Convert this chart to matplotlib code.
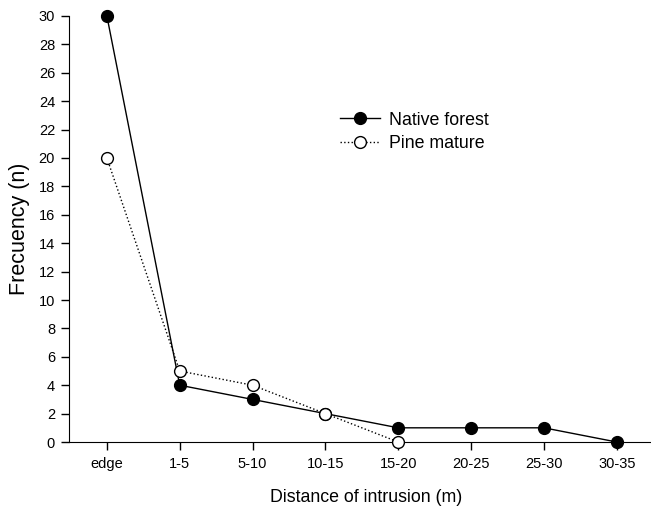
import numpy as np
import matplotlib.pyplot as plt

plt.rcParams['font.family'] = ['Liberation Sans', 'DejaVu Sans']

categories = ['edge', '1-5', '5-10', '10-15', '15-20', '20-25', '25-30', '30-35']
native_forest = [30, 4, 3, 2, 1, 1, 1, 0]
pine_mature = [20, 5, 4, 2, 0]

fig = plt.figure(figsize=(6.51, 5.09), dpi=100)
ax = fig.add_axes([0.106, 0.1316, 0.894, 0.837])

x = np.arange(len(categories))
ax.plot(x, native_forest, color='black', lw=1.0, marker='o', ms=8.5,
        mfc='black', mec='black', label='Native forest', clip_on=False, zorder=3)
ax.plot(x[:len(pine_mature)], pine_mature, color='black', lw=1.0, ls=':',
        marker='o', ms=8.5, mfc='white', mec='black', label='Pine mature',
        clip_on=False, zorder=4)

ax.set_xlim(-0.52, 7.47)
ax.set_ylim(0, 30)
ax.set_xticks(x)
ax.set_xticklabels(categories)
ax.set_yticks(np.arange(0, 31, 2))

for s in ['top', 'right']:
    ax.spines[s].set_visible(False)
ax.tick_params(direction='out', length=6, width=1, labelsize=10.5, pad=5)
ax.tick_params(axis='y', pad=4)

ax.set_xlabel('Distance of intrusion (m)', fontsize=12.8)
ax.xaxis.set_label_coords(0.51, -0.11)
ax.set_ylabel('Frecuency (n)', fontsize=15.5, labelpad=6)

ax.legend(loc='upper left', bbox_to_anchor=(0.497, 0.812), bbox_transform=fig.transFigure,
          frameon=False, fontsize=12.8, handlelength=2.3, handletextpad=0.5,
          labelspacing=0.35)

fig.savefig('out.png', dpi=100)
